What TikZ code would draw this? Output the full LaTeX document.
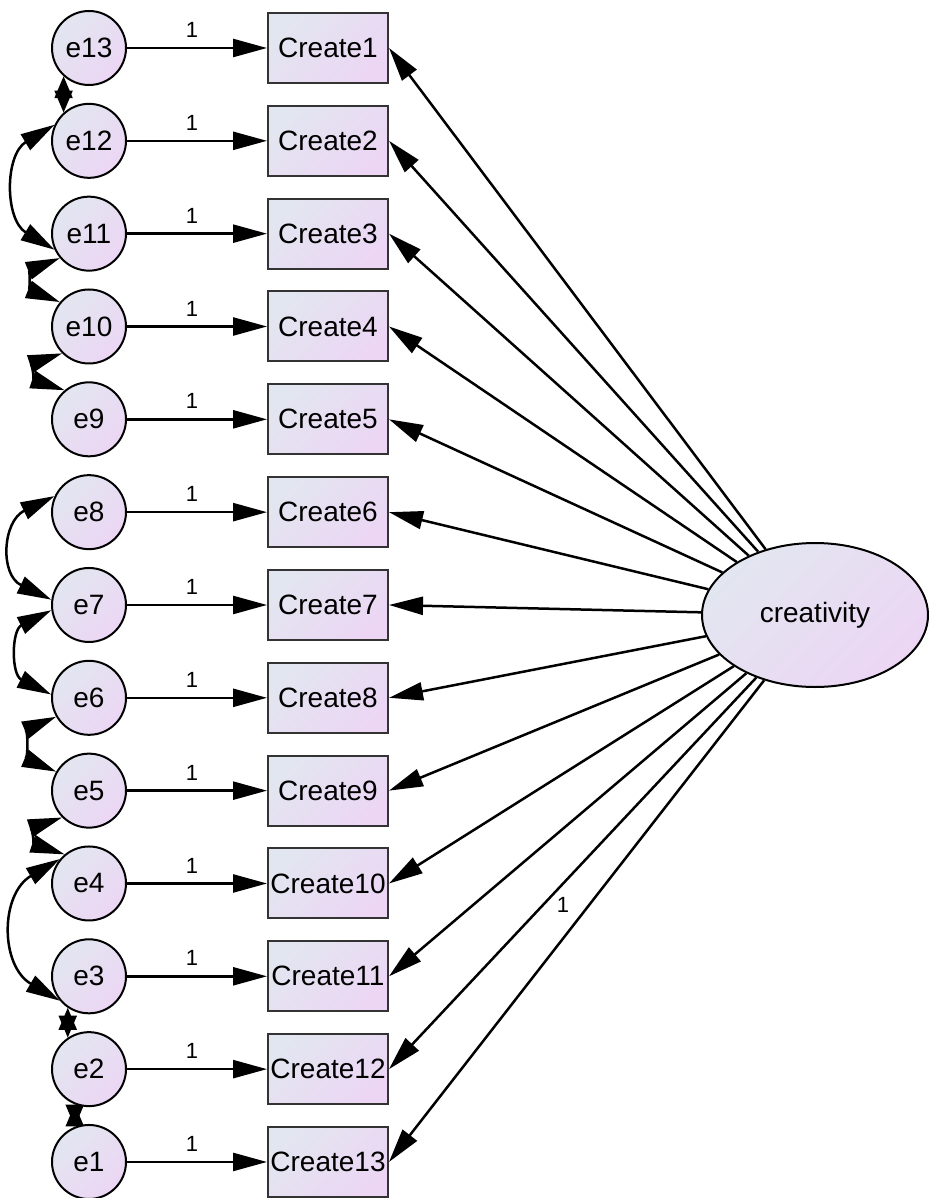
\documentclass[tikz,border=0pt]{standalone}
\usepackage{fontspec}
\setmainfont{Liberation Sans}
\usetikzlibrary{arrows.meta,shapes.geometric}
\definecolor{cA}{RGB}{226,230,240}
\definecolor{cB}{RGB}{236,214,244}
\pgfdeclarelayer{bg}
\pgfsetlayers{bg,main}
\begin{document}
\begin{tikzpicture}[x=1pt,y=-1pt,
  grad/.style={top color=cA, bottom color=cB, shading angle=45},
  err/.style={circle, draw=black, line width=2pt, grad, minimum size=74pt, inner sep=0pt, font=\fontsize{28}{30}\selectfont},
  obs/.style={rectangle, draw=black!80, line width=2pt, grad, minimum width=120pt, minimum height=70pt, inner sep=0pt, font=\fontsize{28}{30}\selectfont},
  lat/.style={ellipse, draw=black, line width=2pt, grad, minimum width=226pt, minimum height=144pt, inner sep=0pt, font=\fontsize{28}{30}\selectfont},
  regarrow/.style={line width=2.5pt, -{Triangle[length=34pt,width=18pt]}},
  cov/.style={line width=2.5pt, {Triangle[length=34pt,width=18pt]}-{Triangle[length=34pt,width=18pt]}},
  covs/.style={line width=2pt, {Triangle[length=22pt,width=18pt]}-{Triangle[length=22pt,width=18pt]}},
  wlab/.style={font=\fontsize{22}{24}\selectfont, inner sep=0pt}
]
\useasboundingbox (0,0) rectangle (928,1198);
\node[lat] (cr) at (815,615) {creativity};
\foreach \i in {1,...,13}{
  \pgfmathsetmacro\yy{48+92.83*(13-\i)}
  \pgfmathtruncatemacro\k{14-\i}
  \node[err] (e\i) at (89,\yy) {e\i};
  \node[obs] (c\k) at (328,\yy) {Create\k};
  \draw[regarrow] (e\i) -- node[wlab, pos=0.465, yshift=18pt] {1} (c\k);
  \draw[regarrow] (cr) -- (c\k.east);
}
\node[wlab] (lab13) at (563,905) {1};
\begin{pgfonlayer}{bg}
\draw[covs] (e13.228) -- (e12.132);
\draw[cov] (e12.155) .. controls +(-50,30) and +(-50,-30) .. (e11.205);
\draw[cov] (e11.220) .. controls +(-30,12) and +(-30,-12) .. (e10.140);
\draw[cov] (e10.225) .. controls +(-30,10) and +(-30,-10) .. (e9.130);
\draw[cov] (e8.155) .. controls +(-52,25) and +(-52,-25) .. (e7.172);
\draw[cov] (e7.188) .. controls +(-40,20) and +(-40,-20) .. (e6.175);
\draw[cov] (e6.210) .. controls +(-28,12) and +(-28,-12) .. (e5.150);
\draw[cov] (e5.225) .. controls +(-30,10) and +(-30,-10) .. (e4.130);
\draw[cov] (e4.140) .. controls +(-60,35) and +(-60,-35) .. (e3.220);
\draw[covs] (e3.236) -- (e2.124);
\draw[covs] (e2.248) -- (e1.112);
\end{pgfonlayer}
\end{tikzpicture}
\end{document}
